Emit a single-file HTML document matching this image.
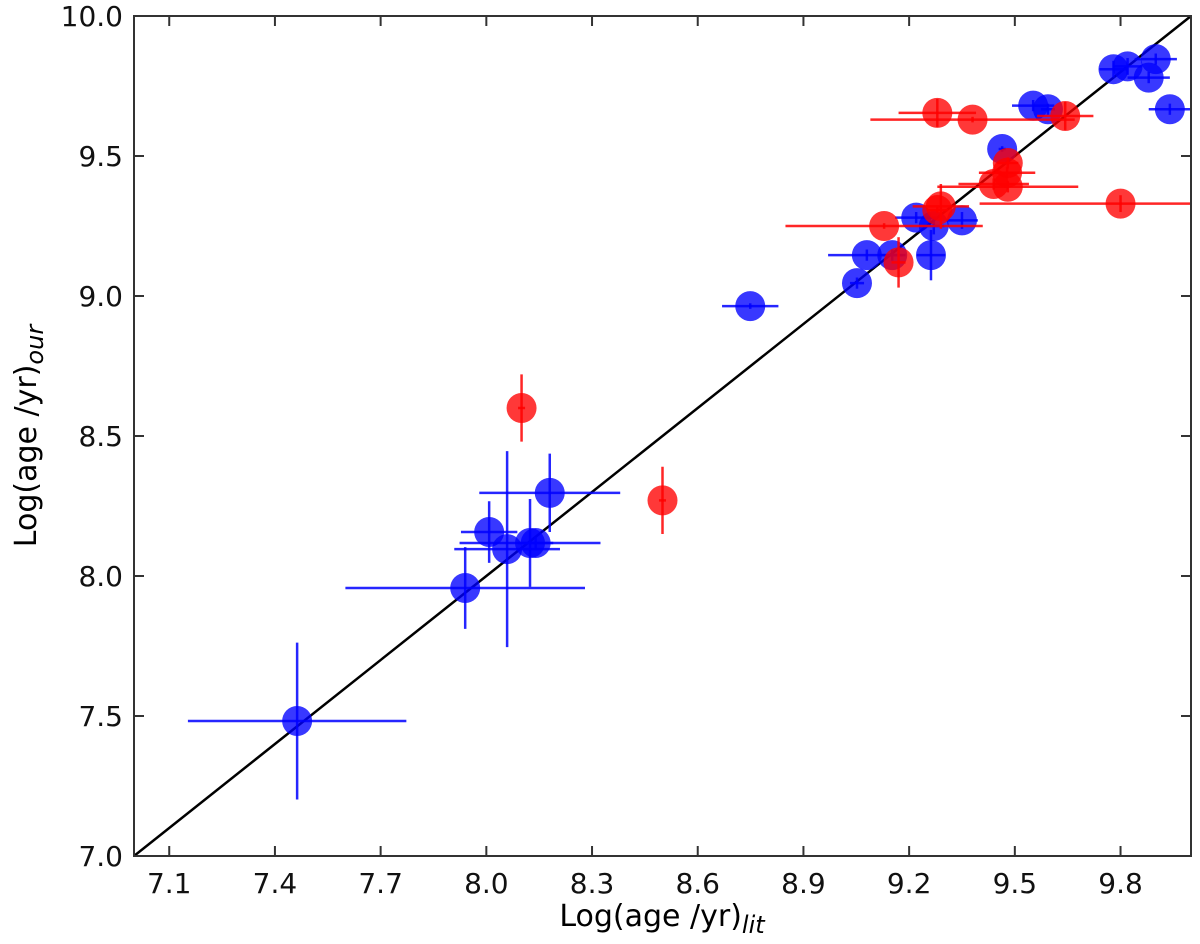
<!DOCTYPE html>
<html><head><meta charset="utf-8">
<style>
html,body{margin:0;padding:0;background:#fff;}
svg{display:block;font-family:"DejaVu Sans","Liberation Sans",sans-serif;}
</style></head>
<body>
<svg id="chart" width="1200" height="944" viewBox="0 0 1200 944" xmlns="http://www.w3.org/2000/svg">
<g id="marks"></g>
<g id="axes"></g>
<text x="662" y="926" font-size="30" text-anchor="middle">Log(age /yr)<tspan font-size="24" font-style="italic" dy="7">lit</tspan></text>
<text transform="translate(36,436) rotate(-90)" font-size="30" text-anchor="middle">Log(age /yr)<tspan font-size="24" font-style="italic" dy="7">our</tspan></text>
</svg>
<script>
const blueX = [7.463,7.94,8.008,8.059,8.124,8.14,8.18,8.749,9.052,9.08,9.152,9.262,9.22,9.27,9.35,9.464,9.552,9.594,9.78,9.82,9.90,9.88,9.94];
const blueY = [7.482,7.957,8.157,8.096,8.118,8.118,8.297,8.964,9.046,9.146,9.146,9.146,9.28,9.25,9.27,9.525,9.68,9.667,9.81,9.82,9.846,9.78,9.667];
const blueXErr = [0.31,0.34,0.08,0.15,0.2,0.05,0.2,0.08,0.02,0.11,0.03,0.04,0.06,0.03,0.045,0.01,0.06,0.02,0.04,0.04,0.06,0.06,0.06];
const blueYErr = [0.28,0.146,0.11,0.35,0.157,0.02,0.14,0.01,0.02,0.02,0.02,0.09,0.02,0.03,0.03,0.01,0.02,0.02,0.03,0.03,0.02,0.02,0.02];
const redX = [8.10,8.50,9.17,9.129,9.28,9.29,9.48,9.478,9.44,9.48,9.80,9.28,9.38,9.643];
const redY = [8.60,8.27,9.12,9.25,9.307,9.32,9.475,9.44,9.40,9.39,9.33,9.654,9.63,9.643];
const redXErr = [0.01,0.01,0.02,0.28,0.03,0.08,0.03,0.08,0.1,0.2,0.4,0.11,0.29,0.08];
const redYErr = [0.12,0.12,0.09,0.01,0.01,0.08,0.02,0.02,0.02,0.02,0.03,0.05,0.01,0.05];
const xTicks = [7.1,7.4,7.7,8.0,8.3,8.6,8.9,9.2,9.5,9.8];
const yTicks = [7.0,7.5,8.0,8.5,9.0,9.5,10.0];

const L=134,R=1191,T=16,B=856,MIN=7,MAX=10;
function sx(v){return L+(v-MIN)/(MAX-MIN)*(R-L);}
function sy(v){return B-(v-MIN)/(MAX-MIN)*(B-T);}
const NS="http://www.w3.org/2000/svg";
function mk(tag,attrs,parent){const e=document.createElementNS(NS,tag);for(const k in attrs)e.setAttribute(k,attrs[k]);parent.appendChild(e);return e;}
const marks=document.getElementById('marks');
const axes=document.getElementById('axes');

const defs=mk('defs',{},marks);
const cp=mk('clipPath',{id:'clip'},defs);
mk('rect',{x:L,y:T,width:R-L,height:B-T},cp);
const plot=mk('g',{'clip-path':'url(#clip)'},marks);

const ref=mk('line',{x1:sx(7),y1:sy(7),x2:sx(10),y2:sy(10),stroke:'#000','stroke-width':2.5},plot);



function series(xs,ys,xe,ye,color,name){
  const g=mk('g',{},plot);
  
  
  for(let i=0;i<xs.length;i++){
    const cx=sx(xs[i]),cy=sy(ys[i]);
    const h=mk('line',{x1:sx(xs[i]-xe[i]),x2:sx(xs[i]+xe[i]),y1:cy,y2:cy,stroke:color,'stroke-width':2.5,'stroke-opacity':0.85},g);
    
    
    const v=mk('line',{x1:cx,x2:cx,y1:sy(ys[i]-ye[i]),y2:sy(ys[i]+ye[i]),stroke:color,'stroke-width':2.5,'stroke-opacity':0.85},g);
    
    
    const c=mk('circle',{cx:cx,cy:cy,r:15,fill:color,'fill-opacity':0.78},g);
    
    
  }
}
series(blueX,blueY,blueXErr,blueYErr,'#0000ff','blue');
series(redX,redY,redXErr,redYErr,'#ff0000','red');

const fr=mk('rect',{x:L,y:T,width:R-L,height:B-T,fill:'none',stroke:'#333','stroke-width':2},axes);


xTicks.forEach(t=>{
  const x=sx(t);
  mk('line',{x1:x,x2:x,y1:B,y2:B-10,stroke:'#333','stroke-width':2},axes);
  mk('line',{x1:x,x2:x,y1:T,y2:T+10,stroke:'#333','stroke-width':2},axes);
  const tx=mk('text',{x:x,y:B+37,'font-size':28,'text-anchor':'middle',fill:'#111'},axes);
  tx.textContent=t.toFixed(1);
  
  
});
yTicks.forEach(t=>{
  const y=sy(t);
  mk('line',{x1:L,x2:L+10,y1:y,y2:y,stroke:'#333','stroke-width':2},axes);
  mk('line',{x1:R,x2:R-10,y1:y,y2:y,stroke:'#333','stroke-width':2},axes);
  const tx=mk('text',{x:L-11,y:y+10,'font-size':28,'text-anchor':'end',fill:'#111'},axes);
  tx.textContent=t.toFixed(1);
  
  
});
</script>
</body></html>
